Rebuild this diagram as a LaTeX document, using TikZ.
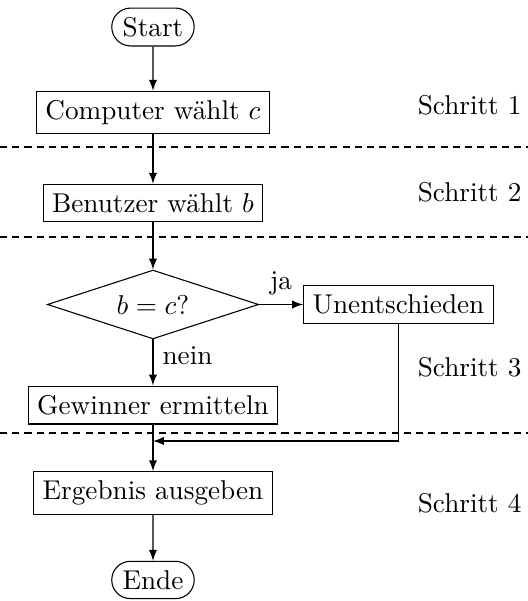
\documentclass[tikz,border=0pt]{standalone}
\usepackage{amssymb,amsmath}
\usepackage{tikz}
\usetikzlibrary{shapes,arrows,shapes.misc,shapes.geometric,calc}

\begin{document}
\begin{tikzpicture}[
    >=latex,
    box/.style={rectangle, draw},
    decision/.style={diamond, draw, aspect=3.06, minimum width=2.73cm, minimum height=0.89cm, inner sep=0pt},
    term/.style={rounded rectangle, draw, inner xsep=3pt},
    schritt/.style={anchor=east, inner sep=0pt},
    sep/.style={dash pattern=on 2.6pt off 1.9pt}
]
  \useasboundingbox (0,0) rectangle (6.823,-7.767);

  % nodes
  \node[term] (start) at (1.977,-0.349)  {Start};
  \node[box]  (comp)  at (1.977,-1.454)  {Computer wählt $c$};
  \node[box]  (user)  at (1.977,-2.623)  {Benutzer wählt $b$};
  \node[decision] (test) at (1.977,-3.935) {$b = c$?};
  \node[box]  (tie)   at (5.150,-3.935)  {Unentschieden};
  \node[box]  (win)   at (1.977,-5.234)  {Gewinner ermitteln};
  \node[box]  (res)   at (1.977,-6.371)  {Ergebnis ausgeben};
  \node[term] (stop)  at (1.977,-7.495)  {Ende};
  \coordinate (merge) at (1.977,-5.699);

  % steps
  \node[schritt] (s1) at (6.746,-1.357) {Schritt 1};
  \node[schritt] (s2) at (6.746,-2.481) {Schritt 2};
  \node[schritt] (s3) at (6.746,-4.743) {Schritt 3};
  \node[schritt] (s4) at (6.746,-6.500) {Schritt 4};

  \draw[sep] (0,-1.900) -- (6.823,-1.900);
  \draw[sep] (0,-3.063) -- (6.823,-3.063);
  \draw[sep] (0,-5.596) -- (6.823,-5.596);

  % edges
  \draw[->] (start) -- (comp);
  \draw[->] (comp) -- (user);
  \draw[->] (user) -- (test);
  \draw[->] (test) -- node[above] {ja} (tie);
  \draw[->] (test) -- node[right, pos=0.35] {nein} (win);
  \draw[->] (win) -- (res);
  \draw[->] (tie.south) |- (merge);
  \draw[->] (res) -- (stop);
\end{tikzpicture}
\end{document}
